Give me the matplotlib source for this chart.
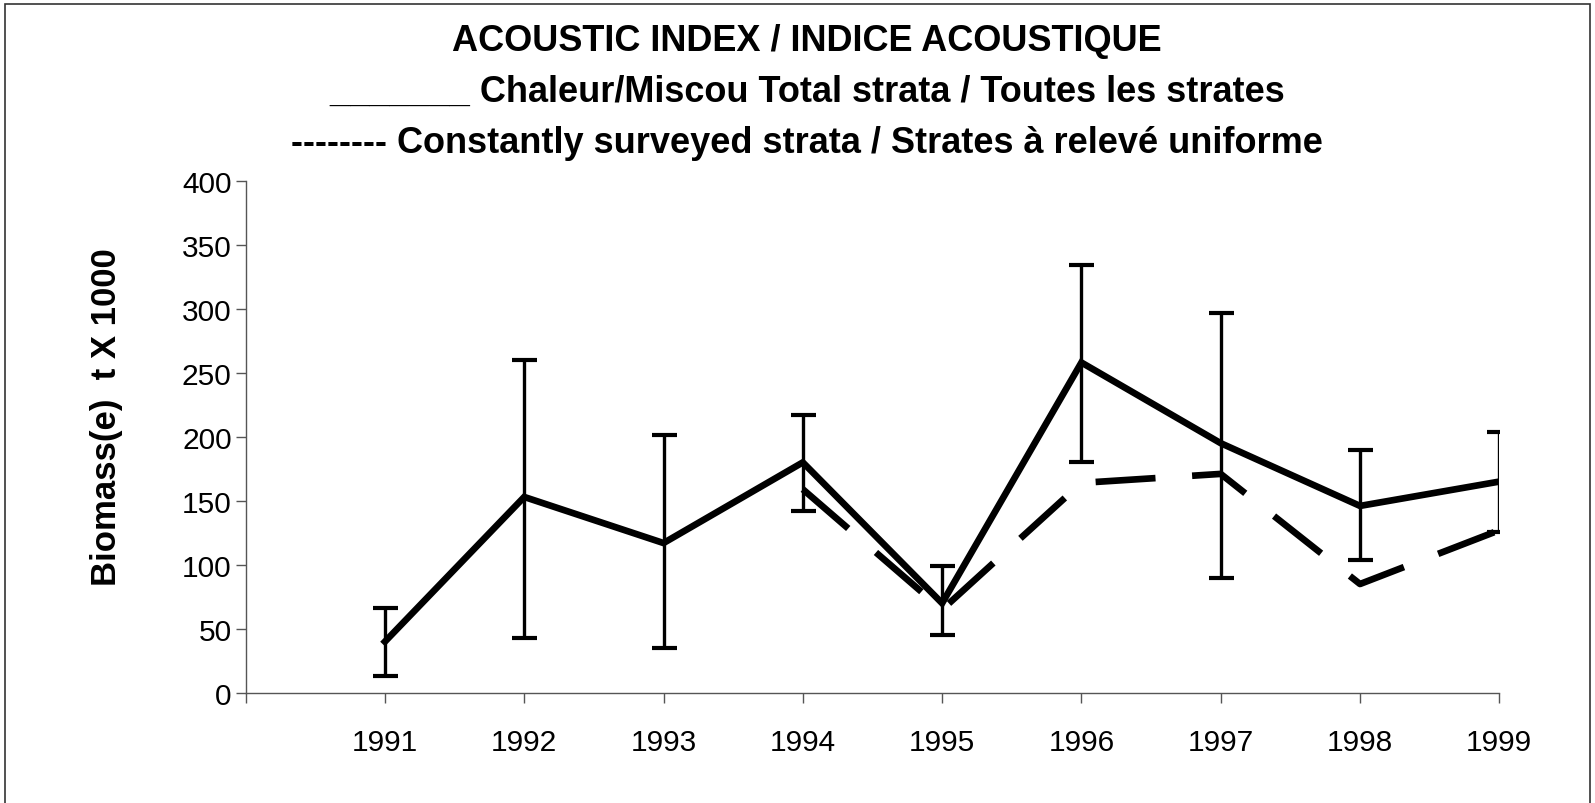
import matplotlib
matplotlib.use("Agg")
import matplotlib.pyplot as plt
from matplotlib.patches import Rectangle

plt.rcParams['font.family'] = ['Liberation Sans', 'DejaVu Sans']

# --- Data ---
years = ['1991', '1992', '1993', '1994', '1995', '1996', '1997', '1998', '1999']
total = [40, 153, 117, 180, 70, 258, 195, 146, 165]
total_hi = [66, 260, 201, 217, 99, 334, 297, 190, 204]
total_lo = [13, 43, 35, 142, 45, 180, 90, 104, 126]
const_years = ['1994', '1995', '1996', '1997', '1998', '1999']
const = [159, 65, 164, 171, 85, 127]

xpos = list(range(1, len(years) + 1))
const_x = [xpos[years.index(y)] for y in const_years]
err_lo = [t - l for t, l in zip(total, total_lo)]
err_hi = [h - t for t, h in zip(total, total_hi)]

fig = plt.figure(figsize=(15.95, 8.04), dpi=100)
ax = fig.add_axes([0.154, 0.137, 0.786, 0.637])

# --- Series ---
ax.errorbar(xpos, total, yerr=[err_lo, err_hi], fmt='none', ecolor='black',
            elinewidth=2.4, capsize=9, capthick=3, zorder=2)
ax.plot(xpos, total, color='black', lw=4.8, solid_joinstyle='miter', zorder=3)
ax.plot(const_x, const, color='black', lw=4.8, dashes=(9, 5.5), zorder=3)

# --- Axes ---
ax.set_xlim(0, 9)
ax.set_ylim(0, 400)
ax.set_yticks(range(0, 401, 50))
ax.set_xticks(range(0, 10))
ax.set_xticklabels([''] + years)
ax.tick_params(axis='y', labelsize=21.5, length=7, width=1, color='#555555', pad=3)
ax.tick_params(axis='x', labelsize=21.5, length=7, width=1, color='#555555', pad=18)
for s in ['top', 'right']:
    ax.spines[s].set_visible(False)
for s in ['left', 'bottom']:
    ax.spines[s].set_color('#555555')
    ax.spines[s].set_linewidth(1)

fig.text(0.067, 0.481, 'Biomass(e)  t X 1000', rotation=90, ha='center', va='center',
         fontsize=25, fontweight='bold')

# --- Title lines ---
fig.text(0.506, 0.948, 'ACOUSTIC INDEX / INDICE ACOUSTIQUE', ha='center', va='center',
         fontsize=26, fontweight='bold')
fig.text(0.506, 0.885, '_______ Chaleur/Miscou Total strata / Toutes les strates',
         ha='center', va='center', fontsize=26, fontweight='bold')
fig.text(0.506, 0.821, '-------- Constantly surveyed strata / Strates à relevé uniforme',
         ha='center', va='center', fontsize=26, fontweight='bold')

# outer frame
fig.patches.append(Rectangle((0.003, -0.01), 0.994, 1.004, transform=fig.transFigure,
                             fill=False, edgecolor='#333333', lw=1.2))

fig.savefig('out.png', dpi=100)
